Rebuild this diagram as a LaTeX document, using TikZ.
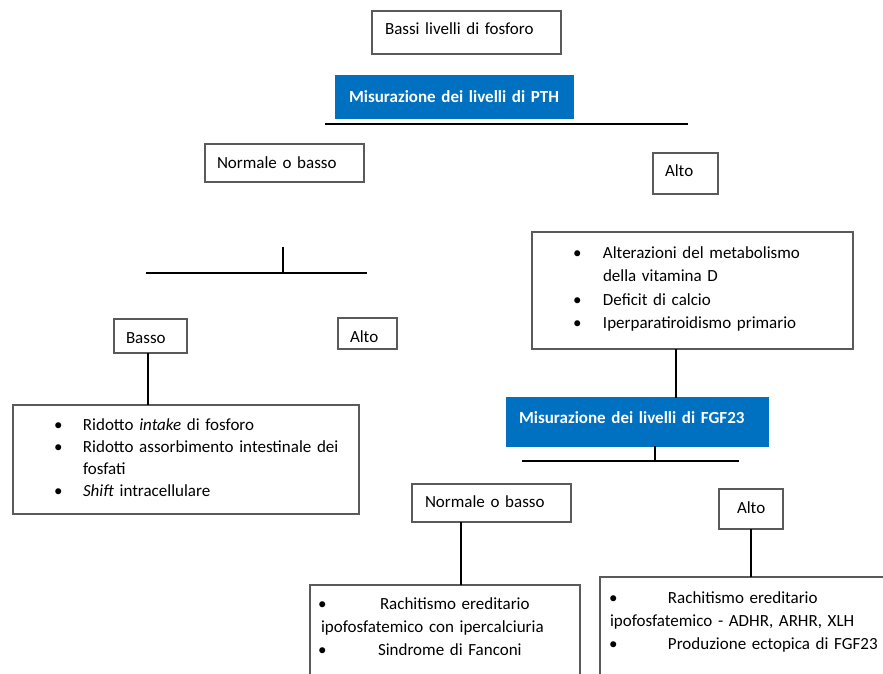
\documentclass[tikz,border=0pt]{standalone}
\usepackage{fontspec}
\setmainfont{Carlito}
\usetikzlibrary{calc}
\definecolor{wordblue}{HTML}{0070C0}
\definecolor{boxline}{HTML}{5A5A5A}
\begin{document}
\begin{tikzpicture}[x=1pt,y=-1pt,
  box/.style={draw=boxline, line width=1.3pt, anchor=north west, inner xsep=0pt, inner ysep=0pt,
    outer sep=0pt, align=left, font=\fontsize{17}{22}\selectfont},
  bluebox/.style={box, fill=wordblue, draw=wordblue, text=white, font=\fontsize{17}{22}\selectfont\bfseries},
  bx/.style n args={3}{text width=#1pt, text height=#2pt, text depth=#3pt},
  conn/.style={draw=black, line width=2pt},
  bar/.style={draw=black, line width=2.7pt}]
\clip (0,0) rectangle (883,673);
% top
\node[box, bx={189}{23}{20}] (top) at (372,11) {\hspace*{13pt}Bassi livelli di fosforo};
\node[bluebox, bx={237}{26}{16}] (pth) at (336,76) {\hspace*{13pt}Misurazione dei livelli di PTH};
\coordinate (b1l) at (325,124);
\coordinate (b1r) at (688,124);
\draw[bar] (b1l) -- (b1r);
\node[box, bx={159}{24}{14}] (nb1) at (205,144) {\hspace*{12pt}Normale o basso};
\node[box, bx={65}{23}{18}] (alto1) at (653,153) {\hspace*{12pt}Alto};
% left branch
\coordinate (b2t) at (283,247);
\coordinate (b2m) at (283,273);
\coordinate (b2l) at (146,273);
\coordinate (b2r) at (367,273);
\draw[conn] (b2t) -- (b2m);
\draw[bar] (b2l) -- (b2r);
\node[box, bx={73}{24}{10}] (basso) at (114,319) {\hspace*{12pt}Basso};
\node[box, bx={59}{24}{7}] (alto2) at (338,318) {\hspace*{12pt}Alto};
\node[box, bx={346}{25}{84}, font=\fontsize{17}{22}\selectfont] (lbox) at (13,405)
  {\hspace*{41pt}\begin{tabular}[t]{@{}p{29pt}@{}l@{}}\textbullet & Ridotto \emph{intake} di fosforo\\
   \textbullet & Ridotto assorbimento intestinale dei\\
   & fosfati\\
   \textbullet & \emph{Shift} intracellulare\end{tabular}};
\coordinate (c0) at ($(basso.south west)!0.47!(basso.south east)$);
\draw[conn] (c0) -- (c0 |- lbox.north);
% right branch
\node[box, bx={321}{26}{91}, font=\fontsize{17}{23.5}\selectfont] (rbox) at (532,232)
  {\hspace*{41pt}\begin{tabular}[t]{@{}p{30pt}@{}l@{}}\textbullet & Alterazioni del metabolismo\\
   & della vitamina D\\
   \textbullet & Deficit di calcio\\
   \textbullet & Iperparatiroidismo primario\end{tabular}};
\node[bluebox, bx={261}{25}{23}] (fgf) at (507,398) {\hspace*{12pt}Misurazione dei livelli di FGF23};
\coordinate (c1) at ($(rbox.south west)!0.45!(rbox.south east)$);
\draw[conn] (c1) -- (c1 |- fgf.north);
\coordinate (c2) at ($(fgf.south west)!0.567!(fgf.south east)$);
\coordinate (b3l) at (522,461);
\coordinate (b3r) at (739,461);
\draw[conn] (c2) -- (c2 |- b3l);
\draw[bar] (b3l) -- (b3r);
\node[box, bx={159}{23}{15}] (nb2) at (412,484) {\hspace*{13pt}Normale o basso};
\node[box, bx={64}{24}{16}] (alto3) at (719,489) {\hspace*{18pt}Alto};
\node[box, bx={270}{24}{81}, font=\fontsize{17}{23}\selectfont] (mbox) at (310,585)
  {\hspace*{8pt}\begin{tabular}[t]{@{}l@{}}\makebox[62pt][l]{\textbullet}Rachitismo ereditario\\
   \hspace*{3pt}ipofosfatemico con ipercalciuria\\
   \makebox[60pt][l]{\textbullet}Sindrome di Fanconi\end{tabular}};
\node[box, bx={300}{26}{87}, font=\fontsize{17}{23}\selectfont] (rbox2) at (600,577)
  {\hspace*{9pt}\begin{tabular}[t]{@{}l@{}}\makebox[59pt][l]{\textbullet}Rachitismo ereditario\\
   \hspace*{1pt}ipofosfatemico - ADHR, ARHR, XLH\\
   \makebox[59pt][l]{\textbullet}Produzione ectopica di FGF23\end{tabular}};
\coordinate (c3) at ($(nb2.south west)!0.31!(nb2.south east)$);
\draw[conn] (c3) -- (c3 |- mbox.north);
\draw[conn] (alto3.south) -- (alto3.south |- rbox2.north);
\end{tikzpicture}
\end{document}
